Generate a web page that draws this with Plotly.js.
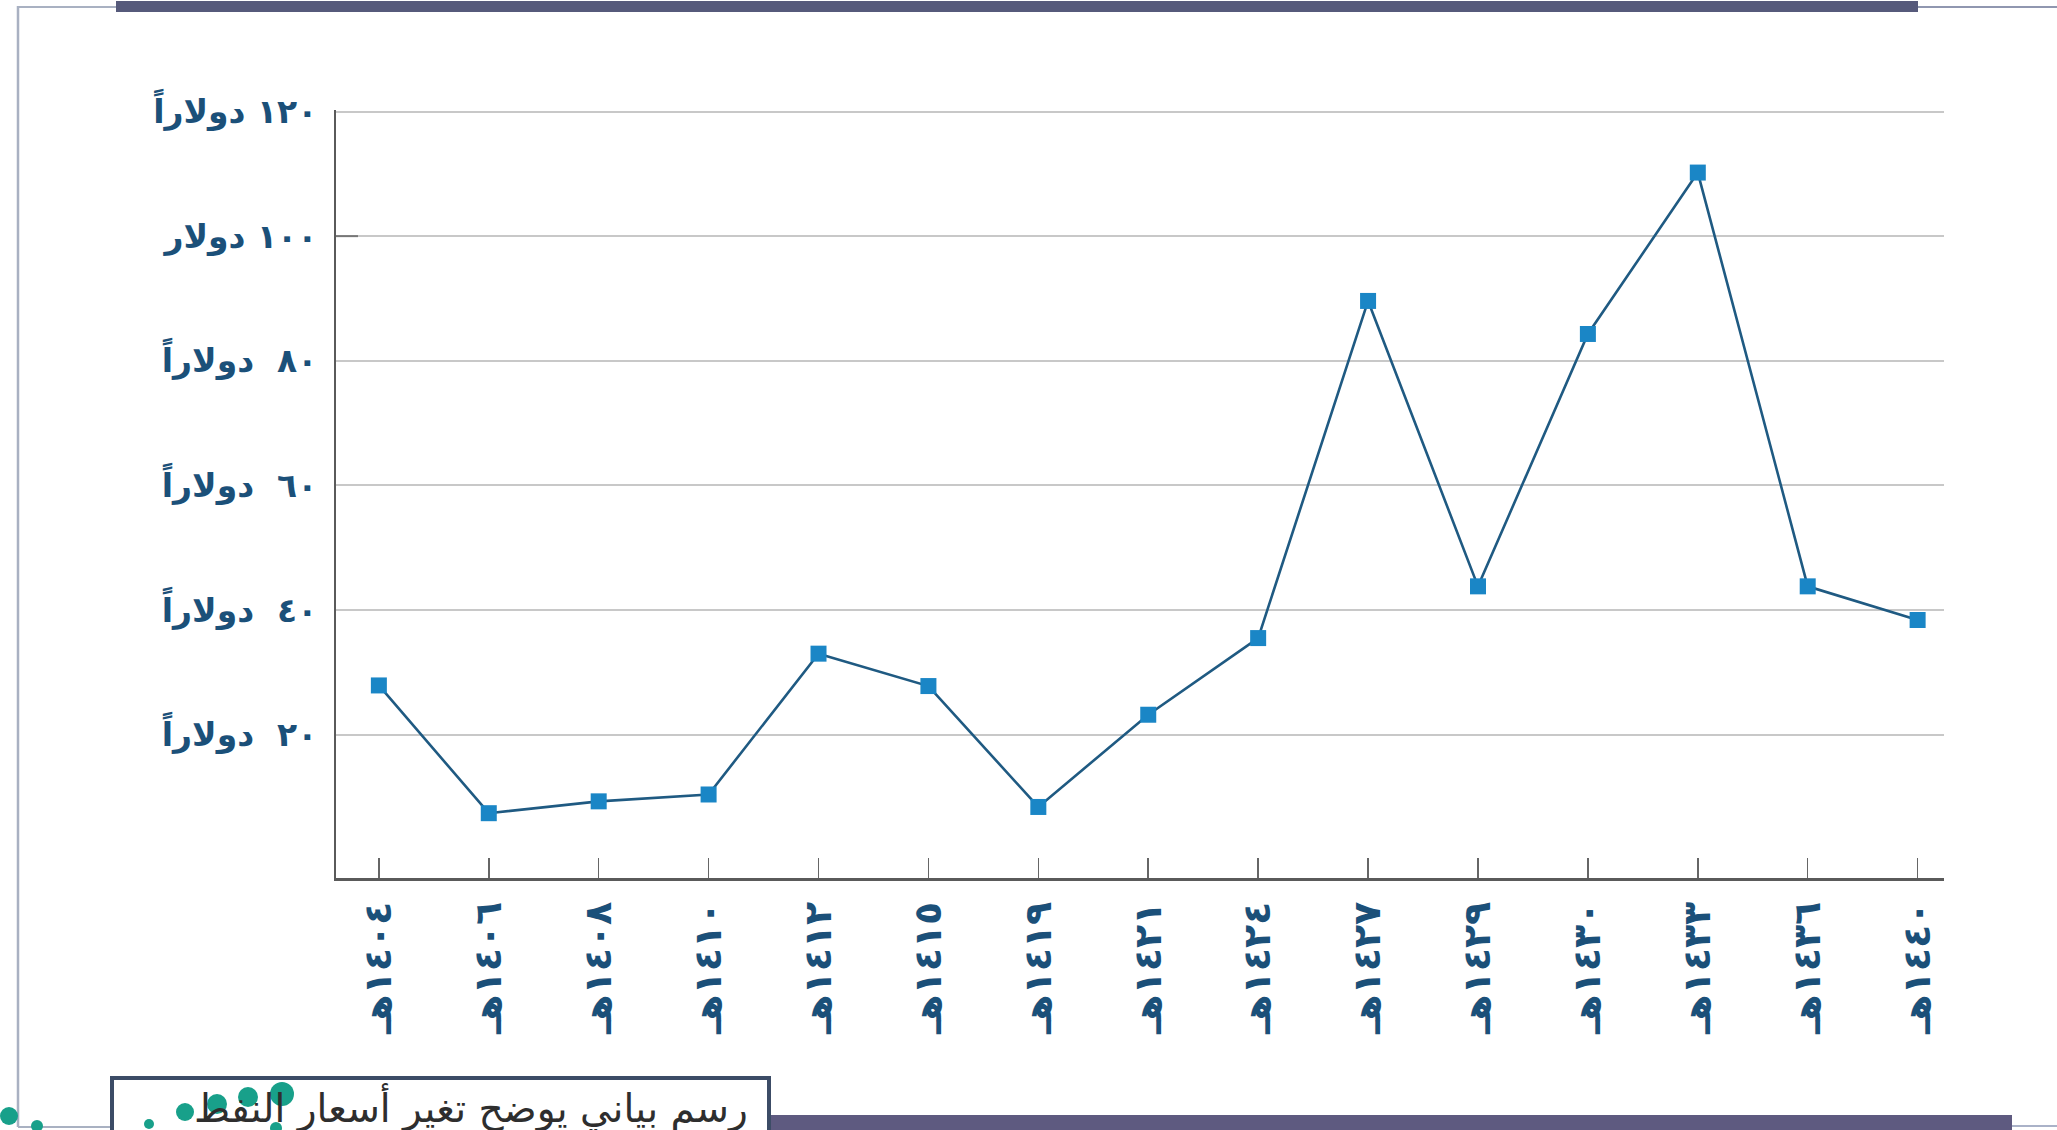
<!DOCTYPE html>
<html>
<head>
<meta charset="utf-8">
<script src="https://cdn.plot.ly/plotly-3.0.1.min.js"></script>
<style>
html,body{margin:0;padding:0;background:#fff;overflow:hidden;}
#chart{width:2057px;height:1130px;}
</style>
</head>
<body>
<div id="chart"></div>
<script>
// ---- data ----
var years = ["١٤٠٤هـ","١٤٠٦هـ","١٤٠٨هـ","١٤١٠هـ","١٤١٢هـ","١٤١٥هـ","١٤١٩هـ","١٤٢١هـ","١٤٢٤هـ","١٤٢٧هـ","١٤٢٩هـ","١٤٣٠هـ","١٤٣٣هـ","١٤٣٦هـ","١٤٤٠هـ"];
var prices = [27.9, 7.4, 9.3, 10.4, 33.0, 27.8, 8.4, 23.2, 35.5, 89.6, 43.8, 84.3, 110.2, 43.8, 38.4];
var yTickVals = [20, 40, 60, 80, 100, 120];
var yTickText = ["٢٠\u00a0 دولاراً","٤٠\u00a0 دولاراً","٦٠\u00a0 دولاراً","٨٠\u00a0 دولاراً","١٠٠ دولار","١٢٠ دولاراً"];
var caption = "رسم بياني يوضح تغير أسعار النفط";

// ---- layout geometry (pixels) ----
var W = 2057, H = 1130;
var mL = 336, mR = 113, mT = 110, mB = 252;
var plotW = W - mL - mR, plotH = H - mT - mB;
function px(x){ return (x - mL) / plotW; }
function py(y){ return (H - mB - y) / plotH; }

var teal = "#18a08a";
function dot(cx, cy, r){
  return {type:"circle", xref:"paper", yref:"paper", x0:px(cx-r), x1:px(cx+r), y0:py(cy+r), y1:py(cy-r),
          fillcolor:teal, line:{width:0}, layer:"above"};
}

var shapes = [
  // top thick bar
  {type:"rect", xref:"paper", yref:"paper", x0:px(116), x1:px(1918), y0:py(12), y1:py(1), fillcolor:"#565a7b", line:{width:0}},
  // top thin line right
  {type:"line", xref:"paper", yref:"paper", x0:px(1918), x1:px(2060), y0:py(7), y1:py(7), line:{color:"#9097b0", width:2}},
  // top-left thin line
  {type:"line", xref:"paper", yref:"paper", x0:px(18), x1:px(116), y0:py(7), y1:py(7), line:{color:"#a9b1c2", width:2}},
  // left vertical line
  {type:"line", xref:"paper", yref:"paper", x0:px(18), x1:px(18), y0:py(6), y1:py(1127), line:{color:"#a9b1c2", width:2.5}},
  // bottom-left thin line
  {type:"line", xref:"paper", yref:"paper", x0:px(18), x1:px(112), y0:py(1127), y1:py(1127), line:{color:"#a9b1c2", width:2}},
  // bottom thick bar
  {type:"rect", xref:"paper", yref:"paper", x0:px(769), x1:px(2012), y0:py(1135), y1:py(1115), fillcolor:"#5e5a80", line:{width:0}},
  // bottom thin line right
  {type:"line", xref:"paper", yref:"paper", x0:px(2012), x1:px(2060), y0:py(1126), y1:py(1126), line:{color:"#aab2c8", width:2}},
  // caption box
  {type:"rect", xref:"paper", yref:"paper", x0:px(112), x1:px(769), y0:py(1140), y1:py(1078), fillcolor:"#ffffff", line:{color:"#3c4c66", width:4}},
  // small tick at 100 on y axis
  {type:"line", xref:"paper", yref:"y", x0:0, x1:px(358), y0:100, y1:100, line:{color:"#777", width:2}},
  // decorative dots
  dot(9,1116,9), dot(37,1126,6), dot(149,1124,5), dot(185,1112,9), dot(217,1104,10),
  dot(248,1097,10), dot(282,1094,12), dot(276,1128,6)
];

var trace = {
  type:"scatter", mode:"lines+markers",
  x: years, y: prices,
  line:{color:"#1f5a82", width:2.6},
  marker:{symbol:"square", size:16, color:"#1a86c6", line:{width:0}},
  hoverinfo:"x+y", cliponaxis:false
};

var layout = {
  width:W, height:H,
  margin:{l:mL, r:mR, t:mT, b:mB, pad:0},
  paper_bgcolor:"#ffffff", plot_bgcolor:"#ffffff",
  showlegend:false,
  font:{family:"DejaVu Sans, sans-serif"},
  xaxis:{
    type:"category", range:[-0.39, 14.24],
    showgrid:false, zeroline:false,
    showline:true, linecolor:"#5a5a5a", linewidth:2.5,
    ticks:"inside", ticklen:20, tickwidth:1.5, tickcolor:"#666",
    tickangle:-90, ticklabelstandoff:6,
    tickfont:{family:"DejaVu Sans", size:38, color:"#1b5079", weight:"bold"}
  },
  yaxis:{
    range:[-3, 120.24],
    tickmode:"array", tickvals:yTickVals, ticktext:yTickText,
    showgrid:true, gridcolor:"#c8c8c8", gridwidth:2,
    zeroline:false,
    showline:true, linecolor:"#5a5a5a", linewidth:2,
    ticks:"", ticklabelstandoff:10,
    tickfont:{family:"DejaVu Sans", size:33, color:"#1b5079", weight:"bold"}
  },
  shapes: shapes,
  annotations:[{
    xref:"paper", yref:"paper", x:px(750), y:py(1081), xanchor:"right", yanchor:"top",
    text: caption, showarrow:false,
    font:{family:"DejaVu Sans", size:39, color:"#2e2e2e"}
  }]
};

Plotly.newPlot("chart", [trace], layout, {staticPlot:true, displayModeBar:false});
</script>
</body>
</html>
